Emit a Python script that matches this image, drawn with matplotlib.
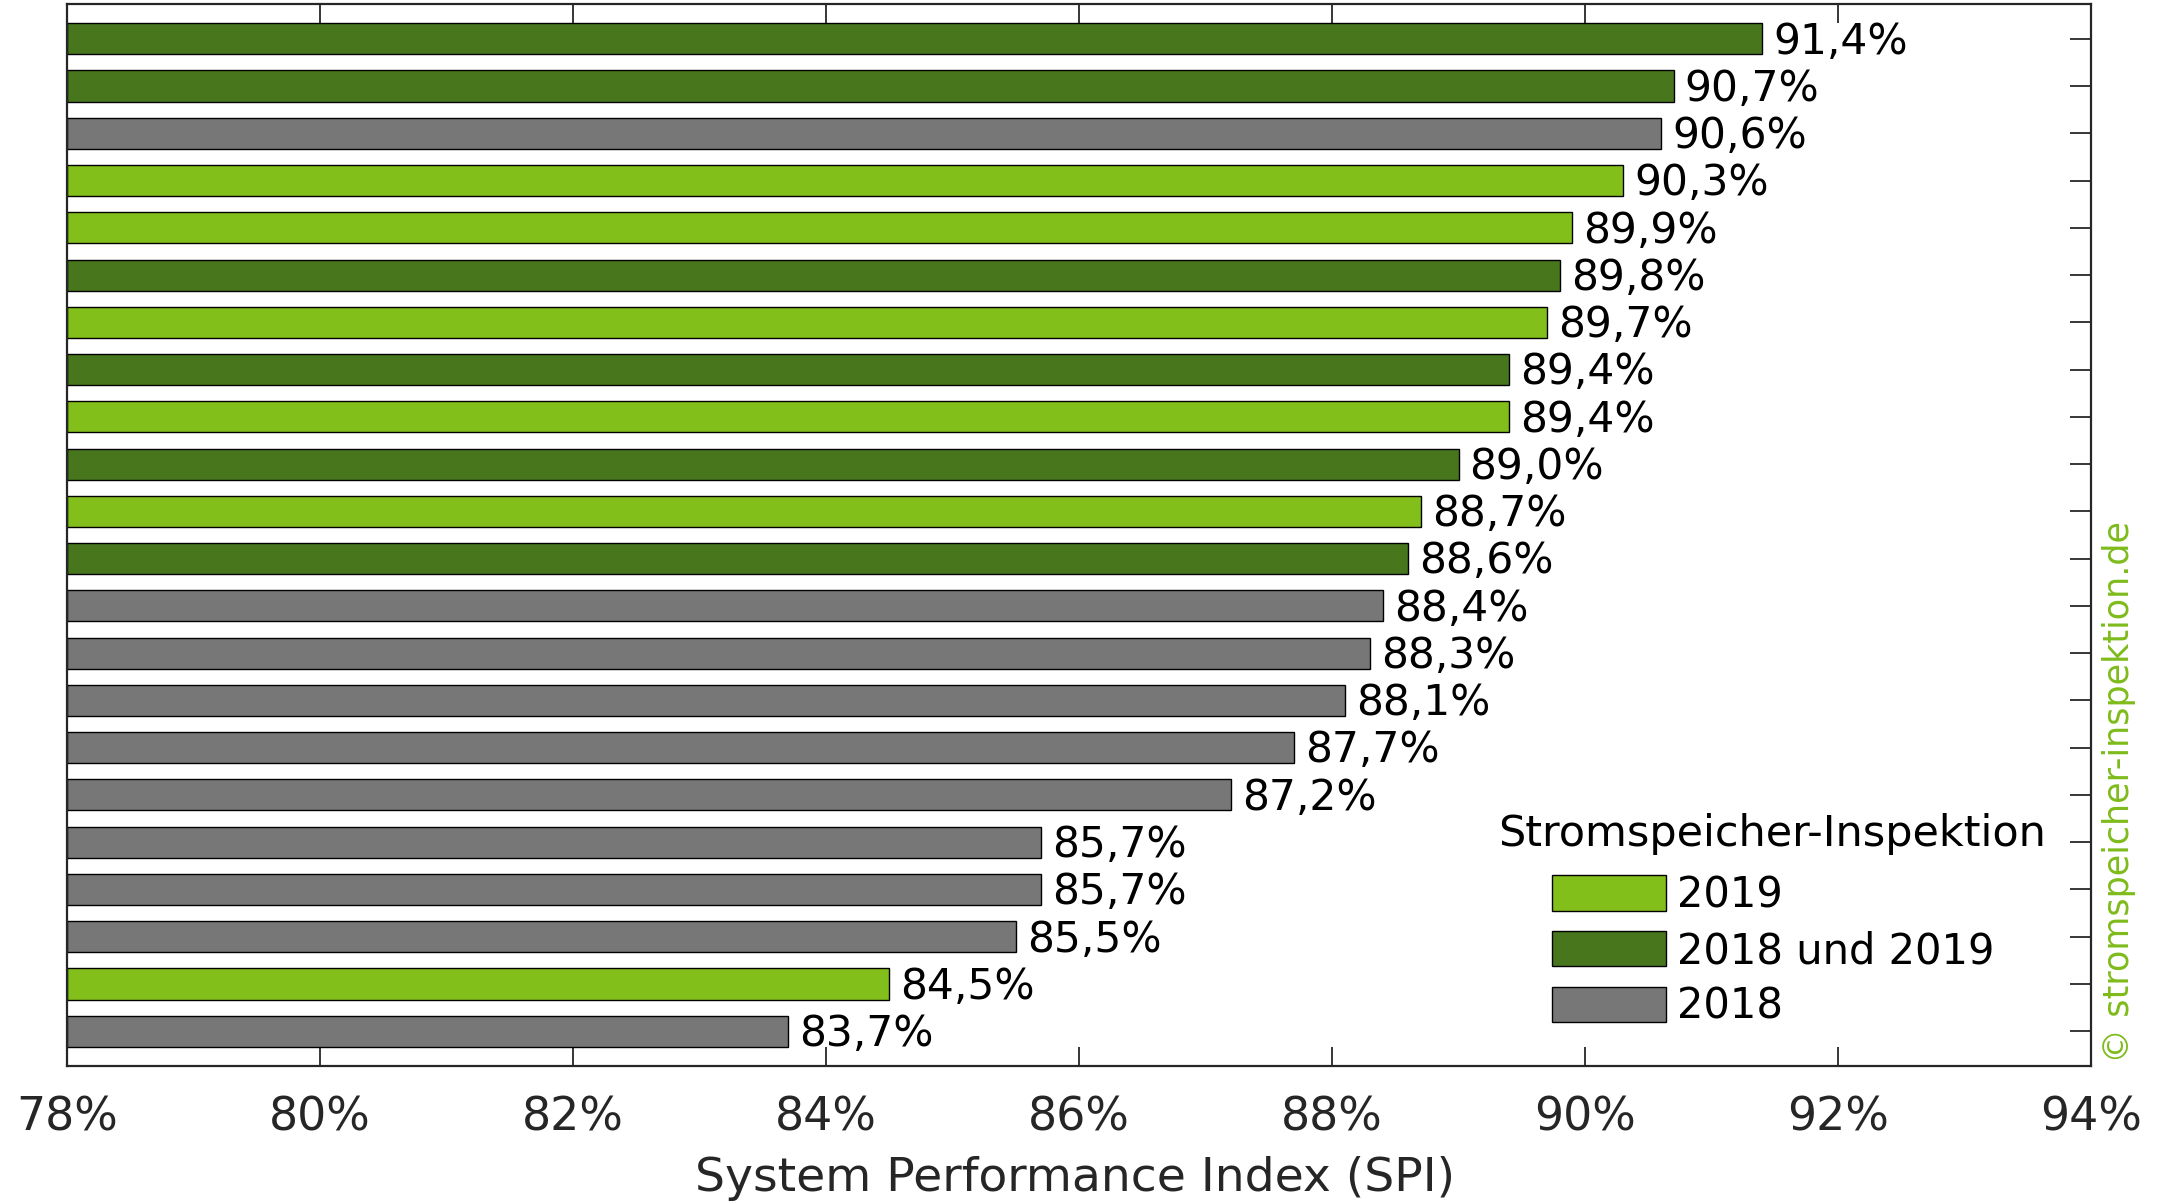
import numpy as np
import matplotlib
matplotlib.use('Agg')
import matplotlib.pyplot as plt
from matplotlib.patches import Patch

plt.rcParams['font.family'] = ['DejaVu Sans']

# bars from top to bottom
values = [91.4, 90.7, 90.6, 90.3, 89.9, 89.8, 89.7, 89.4, 89.4, 89.0, 88.7,
          88.6, 88.4, 88.3, 88.1, 87.7, 87.2, 85.7, 85.7, 85.5, 84.5, 83.7]
groups = ['both', 'both', '2018', '2019', '2019', 'both', '2019', 'both', '2019', 'both', '2019',
          'both', '2018', '2018', '2018', '2018', '2018', '2018', '2018', '2018', '2019', '2018']
xticks = [78, 80, 82, 84, 86, 88, 90, 92, 94]
legend_keys = ['2019', 'both', '2018']
legend_labels = ['2019', '2018 und 2019', '2018']

COLORS = {'2019': '#83bf1b', 'both': '#47761d', '2018': '#777777'}
INK = '#262626'

fig = plt.figure(figsize=(21.61, 12.02), dpi=100)
ax = fig.add_axes([67 / 2161, 1 - 1066 / 1202, (2091 - 67) / 2161, (1066 - 4) / 1202])

n = len(values)
y = np.arange(n)
ax.barh(y, np.array(values) - 78, left=78, height=0.656,
        color=[COLORS[g] for g in groups], edgecolor='black', linewidth=1.0, zorder=3)
for yi, v in zip(y, values):
    ax.annotate(f'{v:.1f}%'.replace('.', ','), xy=(v, yi), xytext=(8, -2),
                textcoords='offset points', ha='left', va='center',
                fontsize=30.5, color='black', zorder=4)

ax.set_xlim(78, 94)
ax.set_ylim(n - 1 + 0.735, -0.735)
ax.set_xticks(xticks)
ax.set_xticklabels([f'{t}%' for t in xticks])
ax.set_yticks(y)
ax.set_yticklabels([])
ax.tick_params(axis='x', direction='in', top=True, bottom=True, length=14, width=1.3,
               color=INK, labelsize=33, labelcolor=INK, pad=21)
ax.tick_params(axis='y', direction='in', left=True, right=True, length=15, width=1.3,
               color=INK)
for s in ax.spines.values():
    s.set_color(INK)
    s.set_linewidth(1.6)
    s.set_zorder(5)

# x-axis title, placed by baseline so the descenders stay inside the canvas
fig.text(1075 / 2161, 1 - 1191 / 1202, 'System Performance Index (SPI)',
         ha='center', va='baseline', fontsize=34, color=INK)

handles = [Patch(facecolor=COLORS[k], edgecolor='black', linewidth=1.0) for k in legend_keys]
leg = ax.legend(handles, legend_labels,
                loc='center', bbox_to_anchor=(1773 / 2161, 1 - 951 / 1202),
                bbox_transform=fig.transFigure, frameon=False, fontsize=30,
                handlelength=2.74, handleheight=0.93,
                handletextpad=0.26, labelspacing=0.33, borderpad=0.2)
fig.text(1772 / 2161, 1 - 834 / 1202, 'Stromspeicher-Inspektion',
         ha='center', va='center', fontsize=31, color='black')

fig.text(2119 / 2161, 1 - 792 / 1202, '\u00a9 stromspeicher-inspektion.de',
         rotation=90, ha='center', va='center', fontsize=25.2, color='#7dbb1a')

fig.savefig('out.png', dpi=100)
